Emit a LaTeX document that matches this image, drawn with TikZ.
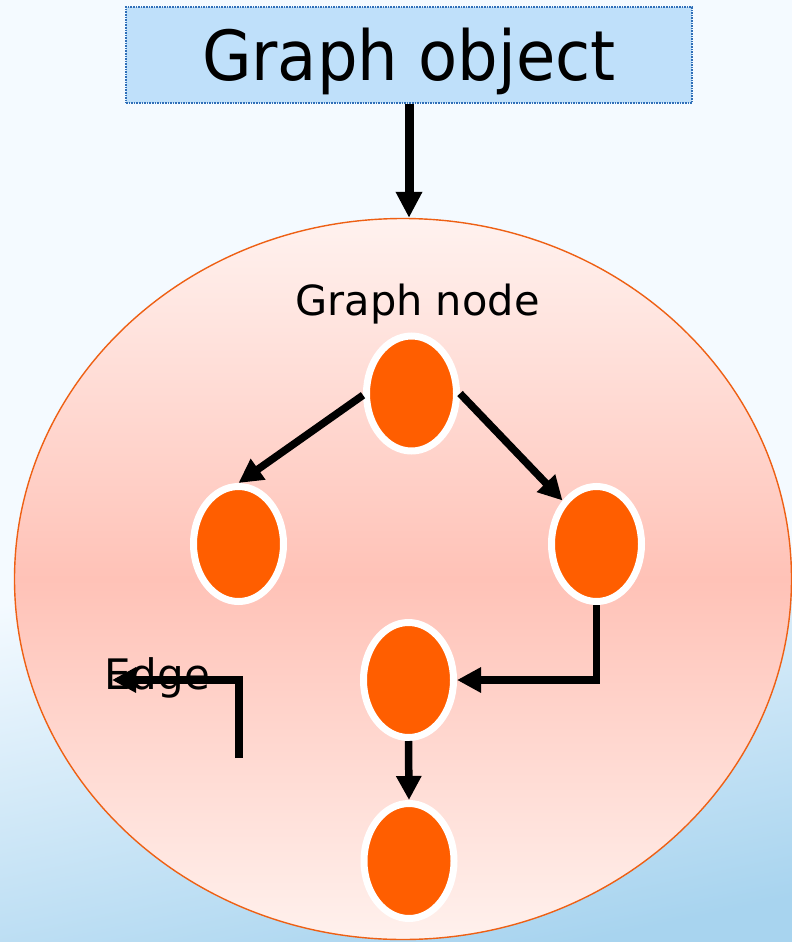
\documentclass[tikz,border=0pt]{standalone}
\usepackage{fontspec}
\setmainfont{DejaVu Sans}
\usetikzlibrary{arrows.meta,shapes.geometric}

\definecolor{bgTop}{RGB}{244,250,255}
\definecolor{bgBot}{RGB}{168,212,239}
\definecolor{boxFill}{RGB}{191,224,250}
\definecolor{boxLine}{RGB}{47,111,184}
\definecolor{cloudTop}{RGB}{255,242,239}
\definecolor{cloudMid}{RGB}{255,194,183}
\definecolor{cloudBot}{RGB}{255,241,237}
\definecolor{cloudLine}{RGB}{238,96,20}
\definecolor{dotFill}{RGB}{255,94,0}

\tikzset{
  gnode/.style={ellipse, fill=dotFill, draw=white, line width=7pt,
    minimum width=90pt, minimum height=115pt, inner sep=0pt},
  link/.style={draw=black, line width=7.5pt,
    -{Triangle[length=24pt,width=24pt]}},
  label/.style={inner sep=0pt, font=\fontsize{41.5}{41.5}\selectfont},
}

\begin{document}
\begin{tikzpicture}[x=1pt,y=-1pt]
  \useasboundingbox (0,0) rectangle (792,942);
  % backdrop: pale above, turning light blue towards the bottom
  \fill[bgTop] (0,0) rectangle (792,942);
  \shade[top color=bgTop, bottom color=bgBot, shading angle=12]
    (0,560) rectangle (792,942);

  % container holding the graph
  \node[ellipse, minimum width=777pt, minimum height=721pt, inner sep=0pt,
        draw=cloudLine, line width=1.4pt,
        top color=cloudTop, bottom color=cloudBot, middle color=cloudMid]
        (graph) at (403,579) {};

  % heading box
  \node[rectangle, minimum width=566pt, minimum height=96pt, inner sep=0pt,
        fill=boxFill, draw=boxLine, line width=1.2pt,
        dash pattern=on 1.6pt off 1pt] (obj) at (409,55) {};
  \node[anchor=base, inner sep=0pt, font=\fontsize{64}{64}\selectfont]
        (objtxt) at (409,81) {\scalebox{1}[1.08]{Graph object}};

  \draw[line width=9pt, -{Triangle[length=26pt,width=25pt]}]
        (obj.south) -- (obj.south |- graph.north);

  % labels
  \node[label, anchor=base] (gntxt) at (417.5,315) {Graph node};
  \node[label, anchor=base west, font=\fontsize{42}{42}\selectfont]
        (edgetxt) at (104,689) {Edge};

  % graph nodes
  \node[gnode] (n1) at (411.5,393.5) {};
  \node[gnode] (n2) at (238.5,544) {};
  \node[gnode] (n3) at (596.5,544) {};
  \node[gnode] (n4) at (408.5,680) {};
  \node[gnode] (n5) at (409,861) {};

  % edges
  \draw[link] (n1.182) -- (n2.north);
  \draw[link] (n1.east) -- (n3.128);
  \draw[link] (n3.south) |- (n4.east);
  \draw[link] (n4.south) -- (n5.north);

  % legend arrow
  \coordinate (legS) at (239,758);
  \coordinate (legE) at (112,680);
  \draw[link] (legS) |- (legE);
\end{tikzpicture}
\end{document}
